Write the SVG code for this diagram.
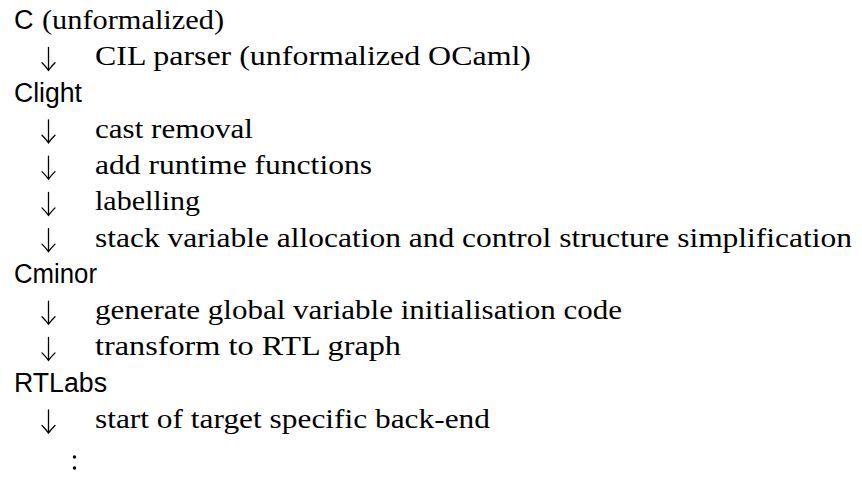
<svg xmlns="http://www.w3.org/2000/svg" width="862" height="477" viewBox="0 0 862 477">
  <defs>
    <!-- downward arrow glyph: shaft plus curved head, tip at (0,0) -->
    <path id="down" d="M0,-23 V0 M-6.5,-7.5 Q-2.5,-3.5 0,0 Q2.5,-3.5 6.5,-7.5"/>
  </defs>
  <style>
    .lang { font-family: "Liberation Sans", "DejaVu Sans", sans-serif; font-size: 27px; fill: #000; }
    .step { font-family: "Liberation Serif", "DejaVu Serif", serif; font-size: 27px; fill: #000; }
    .arrow { fill: none; stroke: #000; stroke-width: 1.3; stroke-linecap: round; }
  </style>
  <rect width="862" height="477" fill="#fff"/>

  <g id="node-c">
    <text class="lang" x="14" y="29">C</text>
    <text class="step" x="42" y="29" textLength="182" lengthAdjust="spacingAndGlyphs">(unformalized)</text>
  </g>
  <g id="node-clight">
    <text class="lang" x="14" y="101.5" textLength="68" lengthAdjust="spacingAndGlyphs">Clight</text>
  </g>
  <g id="node-cminor">
    <text class="lang" x="14" y="282.9" textLength="83" lengthAdjust="spacingAndGlyphs">Cminor</text>
  </g>
  <g id="node-rtlabs">
    <text class="lang" x="14" y="391.7" textLength="93" lengthAdjust="spacingAndGlyphs">RTLabs</text>
  </g>

  <g id="connectors">
    <g class="arrow">
      <use href="#down" x="48.5" y="70.3"/>
      <use href="#down" x="48.5" y="142.8"/>
      <use href="#down" x="48.5" y="179.1"/>
      <use href="#down" x="48.5" y="215.4"/>
      <use href="#down" x="48.5" y="251.6"/>
      <use href="#down" x="48.5" y="324.2"/>
      <use href="#down" x="48.5" y="360.4"/>
      <use href="#down" x="48.5" y="433"/>
    </g>
    <text class="step" x="95" y="65.3" textLength="436" lengthAdjust="spacingAndGlyphs">CIL parser (unformalized OCaml)</text>
    <text class="step" x="95" y="137.8" textLength="158" lengthAdjust="spacingAndGlyphs">cast removal</text>
    <text class="step" x="95" y="174.1" textLength="277" lengthAdjust="spacingAndGlyphs">add runtime functions</text>
    <text class="step" x="95" y="210.4" textLength="105" lengthAdjust="spacingAndGlyphs">labelling</text>
    <text class="step" x="95" y="246.6" textLength="757" lengthAdjust="spacingAndGlyphs">stack variable allocation and control structure simplification</text>
    <text class="step" x="95" y="319.2" textLength="527" lengthAdjust="spacingAndGlyphs">generate global variable initialisation code</text>
    <text class="step" x="95" y="355.4" textLength="306" lengthAdjust="spacingAndGlyphs">transform to RTL graph</text>
    <text class="step" x="95" y="428" textLength="395" lengthAdjust="spacingAndGlyphs">start of target specific back-end</text>
    <!-- continuation dots -->
    <circle cx="74.5" cy="457" r="1.7"/>
    <circle cx="74.5" cy="468" r="1.7"/>
  </g>
</svg>
